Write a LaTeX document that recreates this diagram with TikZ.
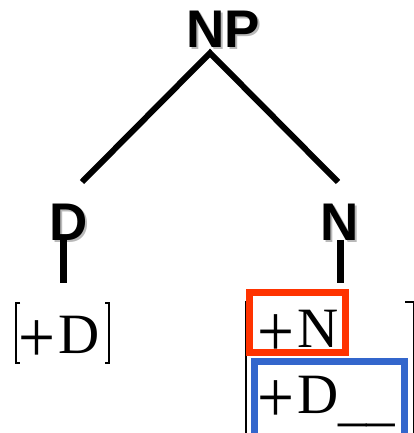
\documentclass[tikz,border=0pt]{standalone}
\usepackage{graphicx}
\usepackage{fontspec}
\setmainfont{Liberation Serif}
\newfontfamily\catfont{Liberation Sans}

\definecolor{featred}{RGB}{255,51,0}
\definecolor{featblue}{RGB}{51,102,204}
\definecolor{shadowgray}{RGB}{185,185,185}

% a feature value: a large plus sign followed by its letter
\newcommand{\featval}[1]{\raisebox{-9pt}{\scalebox{1.15}[1.3]{+}}\kern3pt#1}

\tikzset{
  cat/.style={font=\catfont\bfseries\fontsize{53}{60}\selectfont, inner sep=0pt, anchor=base},
  catshadow/.style={cat, text=shadowgray},
  feat/.style={font=\fontsize{57}{64}\selectfont, inner sep=0pt, anchor=base west},
  branch/.style={line width=6pt},
  stem/.style={line width=7pt},
  bracket/.style={line width=1.5pt},
  redbox/.style={draw=featred, line width=7pt},
  bluebox/.style={draw=featblue, line width=7pt},
}

\begin{document}
\begin{tikzpicture}[x=1pt, y=-1pt]
  \useasboundingbox (0,0) rectangle (414,433);
  \clip (0,0) rectangle (414,433);

  % category labels, each with a soft grey drop shadow
  \node[catshadow] (NP-shadow) at (225,50) {NP};
  \node[cat] (NP) at (223,48) {NP};
  \node[catshadow] (D-shadow) at (70.5,242) {D};
  \node[cat] (D) at (68.5,240) {D};
  \node[catshadow] (N-shadow) at (342,242) {N};
  \node[cat] (N) at (340,240) {N};

  % branch ends and stem ends
  \coordinate (np-foot) at (210,53);
  \coordinate (d-top) at (82,182);
  \coordinate (n-top) at (338,182);
  \coordinate (d-stem-top) at (63.5,238);
  \coordinate (d-stem-end) at (63.5,283);
  \coordinate (n-stem-top) at (340.5,240);
  \coordinate (n-stem-end) at (340.5,283);

  \draw[branch] (d-top) -- (np-foot) -- (n-top);
  \draw[stem] (d-stem-top) -- (d-stem-end);
  \draw[stem] (n-stem-top) -- (n-stem-end);

  % feature matrix of D
  \draw[bracket] (20,303) -- (16,303) -- (16,363) -- (20,363);
  \draw[bracket] (105,303) -- (109,303) -- (109,363) -- (105,363);
  \node[feat] (d-feat) at (18,353) {\featval{D}};

  % feature matrix of N
  \draw[bracket] (253,302) -- (246,302) -- (246,440);
  \draw[bracket] (405,302) -- (414,302) -- (414,440);
  \draw[bluebox] (254.5,361.5) rectangle (404.5,445);
  \draw[redbox] (249.5,292.5) rectangle (345.5,352.5);
  \node[feat] (n-feat) at (257,347) {\featval{N}};
  \node[feat] (n-sel) at (257,413) {\featval{D}\raisebox{-6pt}{\_\_}};
\end{tikzpicture}
\end{document}
